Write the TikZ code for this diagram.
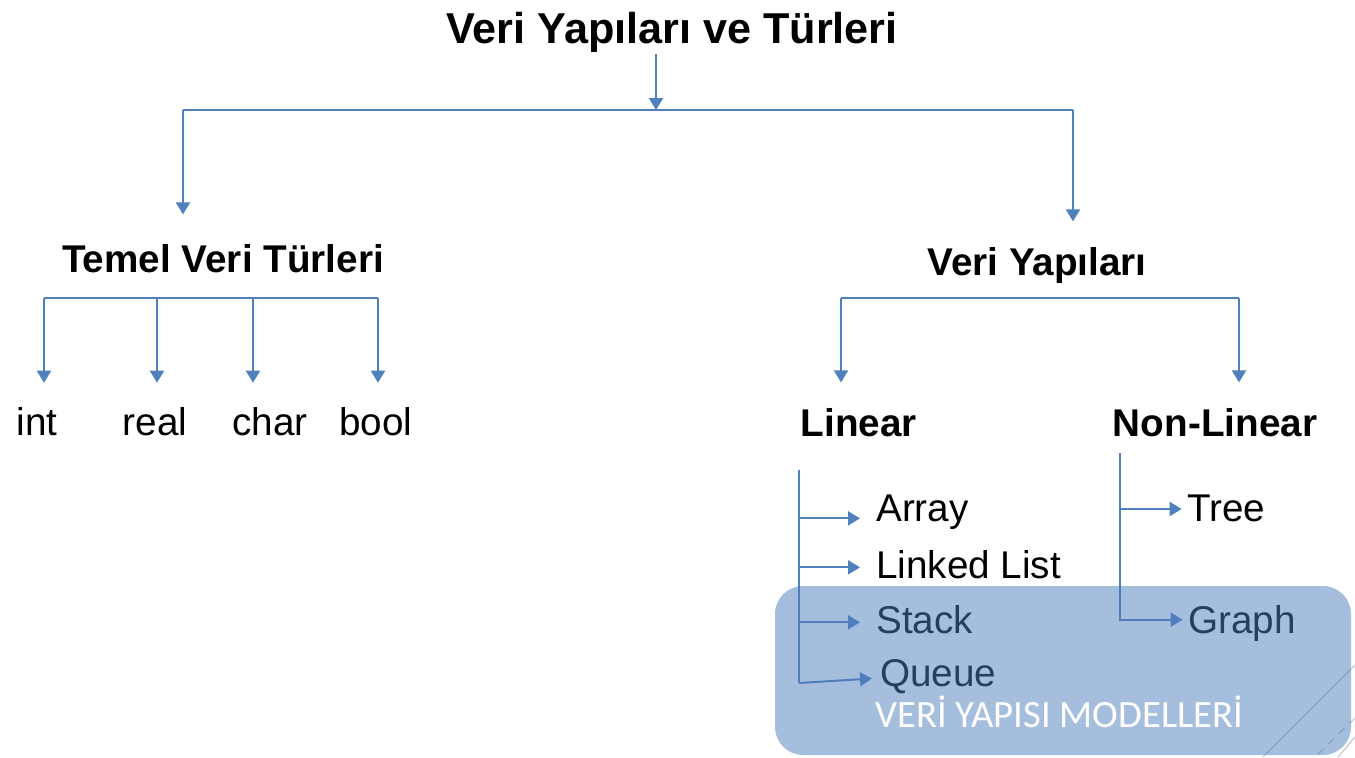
\documentclass[tikz,border=0pt]{standalone}
\usepackage{fontspec}
\setmainfont{Liberation Sans}
\newfontfamily\modelfont{Carlito}
\usetikzlibrary{arrows.meta,positioning}
\definecolor{lineblue}{RGB}{79,129,189}
\definecolor{boxblue}{RGB}{78,126,188}
\definecolor{decogray}{RGB}{200,205,215}

\begin{document}
\begin{tikzpicture}[x=0.75pt, y=-0.75pt,
  link/.style={draw=lineblue, line width=1.5pt},
  arr/.style={link, -{Triangle[width=10.5pt,length=9pt]}, shorten >=#1},
  arr/.default=0pt,
  lbl/.style={inner sep=0pt, text height=22pt, text depth=6pt, anchor=base,
    font=\fontsize{29}{34}\selectfont},
  hdr/.style={lbl, font=\fontsize{29}{34}\selectfont\bfseries},
  item/.style={lbl, anchor=base west}]
  \useasboundingbox (0,0) rectangle (1355,757);

  % slide decoration
  \draw[decogray, line width=1pt] (1355,665) -- (1263,757);
  \draw[decogray, line width=1pt, dash pattern=on 6pt off 5pt] (1355,718) -- (1315,757);
  \draw[decogray, line width=1pt] (1355,737) -- (1338,757);

  % titles
  \node[hdr, font=\fontsize{32.4}{38}\selectfont\bfseries] (title) at (672,43) {Veri Yapıları ve Türleri};
  \node[hdr] (temel) at (223,272) {Temel Veri Türleri};
  \node[hdr] (yapi) at (1037,275) {Veri Yapıları};

  \coordinate (top) at (656,110);
  \coordinate (topL) at (183,110);
  \coordinate (topR) at (1073,110);
  \draw[arr, shorten <=2pt] (title.south -| top) -- (top);
  \draw[link] (topL) -- (topR);
  \draw[arr=21pt] (topL) -- (topL |- temel.north);
  \draw[arr=18pt] (topR) -- (topR |- yapi.north);

  % basic types
  \node[lbl] (int) at (37,435) {int};
  \node[lbl] (real) at (155,435) {real};
  \node[lbl] (char) at (270,435) {char};
  \node[lbl] (bool) at (376,435) {bool};
  \draw[link] (44,298) -- (378,298);
  \foreach \x/\n in {44/int, 157/real, 253/char, 378/bool}
    \draw[arr=17pt] (\x,298) -- (\x,0 |- \n.north);

  % data structures
  \node[hdr] (lin) at (859,436) {Linear};
  \node[hdr] (nonlin) at (1215,436) {Non-Linear};
  \coordinate (yL) at (841,298);
  \coordinate (yR) at (1239,298);
  \draw[link] (yL) -- (yR);
  \draw[arr=18pt] (yL) -- (yL |- lin.north);
  \draw[arr=18pt] (yR) -- (yR |- nonlin.north);

  % linear ones
  \node[item] (array) at (876,521) {Array};
  \node[item] (list) at (876,578) {Linked List};
  \node[item] (stack) at (876,633) {Stack};
  \node[item] (queue) at (880,686) {Queue};
  \coordinate (lTop) at (799,470);
  \coordinate (lBot) at (799,683);
  \draw[link] (lTop) -- (lBot);
  \draw[arr=12pt] (lTop) |- ([yshift=2pt]array.base west);
  \draw[arr=12pt] (lTop) |- ([yshift=8pt]list.base west);
  \draw[arr=12pt] (lTop) |- ([yshift=8pt]stack.base west);
  \draw[arr=6pt] (lBot) -- ([yshift=6pt]queue.base west);

  % non-linear ones
  \node[item] (tree) at (1187,521) {Tree};
  \node[item] (graph) at (1188,633) {Graph};
  \coordinate (nTop) at (1120,453);
  \draw[arr=4pt] (nTop) |- ([yshift=9pt]tree.base west);
  \draw[arr=4pt] (nTop) |- ([yshift=10pt]graph.base west);

  % highlight
  \fill[boxblue, fill opacity=0.5, rounded corners=21pt] (775,586) rectangle (1351,755);
  \node[inner sep=0pt, anchor=base west, text=white, font=\modelfont\fontsize{29}{33}\selectfont]
    (model) at (875,727) {VERİ YAPISI MODELLERİ};
\end{tikzpicture}
\end{document}
